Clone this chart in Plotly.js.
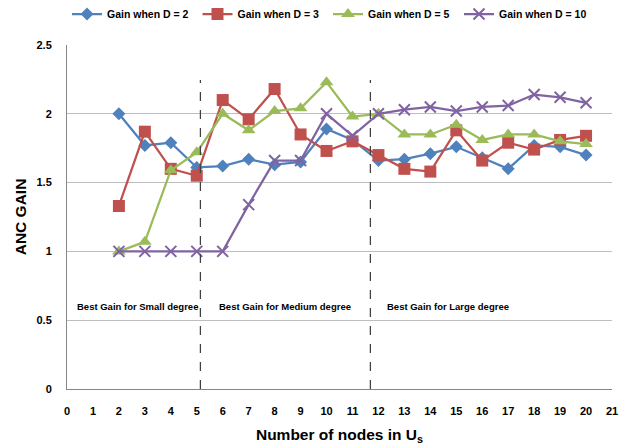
<!DOCTYPE html>
<html>
<head>
<meta charset="utf-8">
<script src="https://cdn.plot.ly/plotly-3.0.1.min.js"></script>
<style>html,body{margin:0;padding:0;background:#fff;}#chart{width:628px;height:446px;}</style>
</head>
<body>
<div id="chart"></div>
<script>
const nodes = [2,3,4,5,6,7,8,9,10,11,12,13,14,15,16,17,18,19,20];
const gainD2  = [2.00,1.77,1.79,1.61,1.62,1.67,1.63,1.65,1.89,1.81,1.66,1.67,1.71,1.76,1.68,1.60,1.77,1.76,1.70];
const gainD3  = [1.33,1.87,1.60,1.55,2.10,1.96,2.18,1.85,1.73,1.80,1.70,1.60,1.58,1.88,1.66,1.79,1.74,1.81,1.84];
const gainD5  = [1.00,1.07,1.59,1.72,2.00,1.88,2.02,2.04,2.23,1.98,2.00,1.85,1.85,1.92,1.81,1.85,1.85,1.80,1.78];
const gainD10 = [1.00,1.00,1.00,1.00,1.00,1.34,1.66,1.66,2.00,1.84,2.00,2.03,2.05,2.02,2.05,2.06,2.14,2.12,2.08];
const seriesNames = ["Gain when D = 2","Gain when D = 3","Gain when D = 5","Gain when D = 10"];
const regionLabels = ["Best Gain for Small degree","Best Gain for Medium degree","Best Gain for Large degree"];
const regionLabelX = [2.7, 8.4, 14.68];
const regionLabelY = 0.6;
const dividerX = [5.14, 11.69];
const dividerTop = 2.245;
const xTicks = Array.from({length:22},(_,i)=>i);
const yTicks = [0,0.5,1,1.5,2,2.5];
const yTickText = ['0','0.5','1','1.5','2','2.5'];

const FONT = "'Liberation Sans', Arial, sans-serif";
const colors = ["#4F81BD","#C0504D","#9BBB59","#8064A2"];
const symbols = ["diamond","square","triangle-up","x-thin"];
const sizes = [10,12,12,11];
const dataSets = [gainD2,gainD3,gainD5,gainD10];
const legendIds = ['legend','legend2','legend3','legend4'];
const legendTextStart = [107, 237.5, 368, 499];

const traces = dataSets.map((ys,i)=>({
  x: nodes, y: ys, name: seriesNames[i], type:'scatter', mode:'lines+markers',
  legend: legendIds[i],
  line:{color:colors[i], width:2.25},
  marker:{symbol:symbols[i], size:sizes[i], color:colors[i],
          line:{color:colors[i], width: i===3 ? 2 : 0}}
}));

const shapes = dividerX.map(x=>({
  type:'line', xref:'x', yref:'y', x0:x, x1:x, y0:0, y1:dividerTop,
  line:{color:'#404040', width:1.25, dash:'dash'}
}));

const annotations = regionLabels.map((t,i)=>({
  text:'<b>'+t+'</b>', x:regionLabelX[i], y:regionLabelY, xref:'x', yref:'y',
  showarrow:false, font:{family:FONT, size:9.5, color:'#000'}
}));

const layout = {
  width:628, height:446,
  margin:{l:67, r:16, t:45, b:57},
  paper_bgcolor:'#fff', plot_bgcolor:'#fff',
  showlegend:true,
  xaxis:{range:[0,21], tickvals:xTicks, ticktext:xTicks.map(String),
         showgrid:false, zeroline:false, showline:true, linecolor:'#868686', linewidth:1,
         ticks:'', ticklabelstandoff:12,
         tickfont:{family:FONT, size:11, color:'#000', weight:'bold'},
         title:{text:'<b>Number of nodes in U<sub>s</sub></b>', font:{family:FONT, size:15.5, color:'#000'}, standoff:12}},
  yaxis:{range:[0,2.5], tickvals:yTicks, ticktext:yTickText,
         showgrid:true, gridcolor:'#BEBEBE', gridwidth:1, zeroline:false,
         showline:true, linecolor:'#868686', linewidth:1, ticks:'', ticklabelstandoff:12,
         tickfont:{family:FONT, size:11, color:'#000', weight:'bold'},
         title:{text:'<b>ANC GAIN</b>', font:{family:FONT, size:15.5, color:'#000'}, standoff:6}},
  shapes: shapes,
  annotations: annotations
};
legendIds.forEach((id,i)=>{
  layout[id] = {orientation:'h', xref:'container', yref:'container',
    x:(legendTextStart[i]-40)/628, xanchor:'left', y:1-14/446, yanchor:'middle',
    font:{family:FONT, size:10.5, color:'#000', weight:'bold'}, itemwidth:30, bgcolor:'rgba(0,0,0,0)'};
});
Plotly.newPlot('chart', traces, layout, {displayModeBar:false, staticPlot:true});
</script>
</body>
</html>
